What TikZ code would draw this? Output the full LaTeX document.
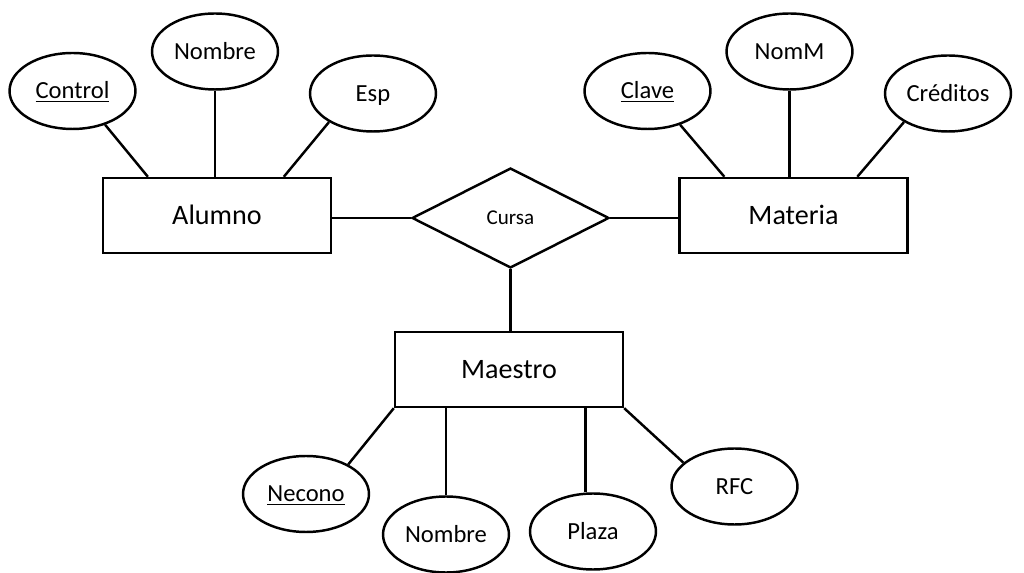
\documentclass[tikz,border=0pt]{standalone}
\usepackage{fontspec}
\setmainfont{Carlito}
\usetikzlibrary{shapes.geometric,calc}
\begin{document}
\begin{tikzpicture}[x=0.02cm,y=-0.02cm,
  entity/.style={draw,line width=1.4pt,rectangle,inner sep=0pt,minimum width=4.56cm,minimum height=1.5cm,text height=10.3pt,text depth=0pt,font=\fontsize{16}{18}\selectfont},
  attr/.style={draw,line width=1.4pt,ellipse,inner sep=0pt,minimum width=2.52cm,minimum height=1.52cm,text height=9pt,text depth=0pt,font=\fontsize{14}{16}\selectfont},
  rel/.style={draw,line width=1.4pt,diamond,inner sep=0pt,aspect=1.97,minimum width=3.94cm,minimum height=2cm,text height=7.7pt,text depth=0pt,font=\fontsize{12}{14}\selectfont},
  conn/.style={line width=1.4pt}]
\useasboundingbox (0,0) rectangle (1024,573);
% entities
\node[entity] (alu) at (217,215.5) {Alumno};
\node[entity] (mat) at (793.5,215.5) {Materia};
\node[entity] (mae) at (509,369.5) {Maestro};
% relationship
\node[rel] (cur) at (510.5,218) {Cursa};
% attributes of Alumno
\node[attr] (ctrl) at (72.5,91) {\underline{Control}};
\node[attr] (nom1) at (215,51.5) {Nombre};
\node[attr] (esp) at (373,93.5) {Esp};
% attributes of Materia
\node[attr] (clv) at (647.5,91) {\underline{Clave}};
\node[attr] (nomm) at (789.5,51.5) {NomM};
\node[attr] (cred) at (948,93.5) {Créditos};
% attributes of Maestro
\node[attr] (nec) at (306,494) {\underline{Necono}};
\node[attr] (nom2) at (446,534.5) {Nombre};
\node[attr] (plz) at (593,531.5) {Plaza};
\node[attr] (rfc) at (734.5,486.5) {RFC};
% anchor points on entity borders
\coordinate (aluA) at ($(alu.north west)!0.2!(alu.north east)$);
\coordinate (aluC) at ($(alu.north west)!0.79!(alu.north east)$);
\coordinate (matA) at ($(mat.north west)!0.2!(mat.north east)$);
\coordinate (matC) at ($(mat.north west)!0.777!(mat.north east)$);
\coordinate (maeP) at ($(mae.south west)!0.832!(mae.south east)$);
% connectors
\draw[conn] (ctrl.314) -- (aluA);
\draw[conn] (nom1.south) -- (nom1.south |- alu.north);
\draw[conn] (esp.213) -- (aluC);
\draw[conn] (clv.314) -- (matA);
\draw[conn] (nomm.south) -- (nomm.south |- mat.north);
\draw[conn] (cred.213) -- (matC);
\draw[conn] (cur.west) -- (cur.west -| alu.east);
\draw[conn] (cur.east) -- (cur.east -| mat.west);
\draw[conn] (cur.south) -- (cur.south |- mae.north);
\draw[conn] (nec.35) -- (mae.south west);
\draw[conn] (nom2.north) -- (nom2.north |- mae.south);
\draw[conn] (maeP) -- (maeP |- plz.north);
\draw[conn] (rfc.155) -- (mae.south east);
\end{tikzpicture}
\end{document}
